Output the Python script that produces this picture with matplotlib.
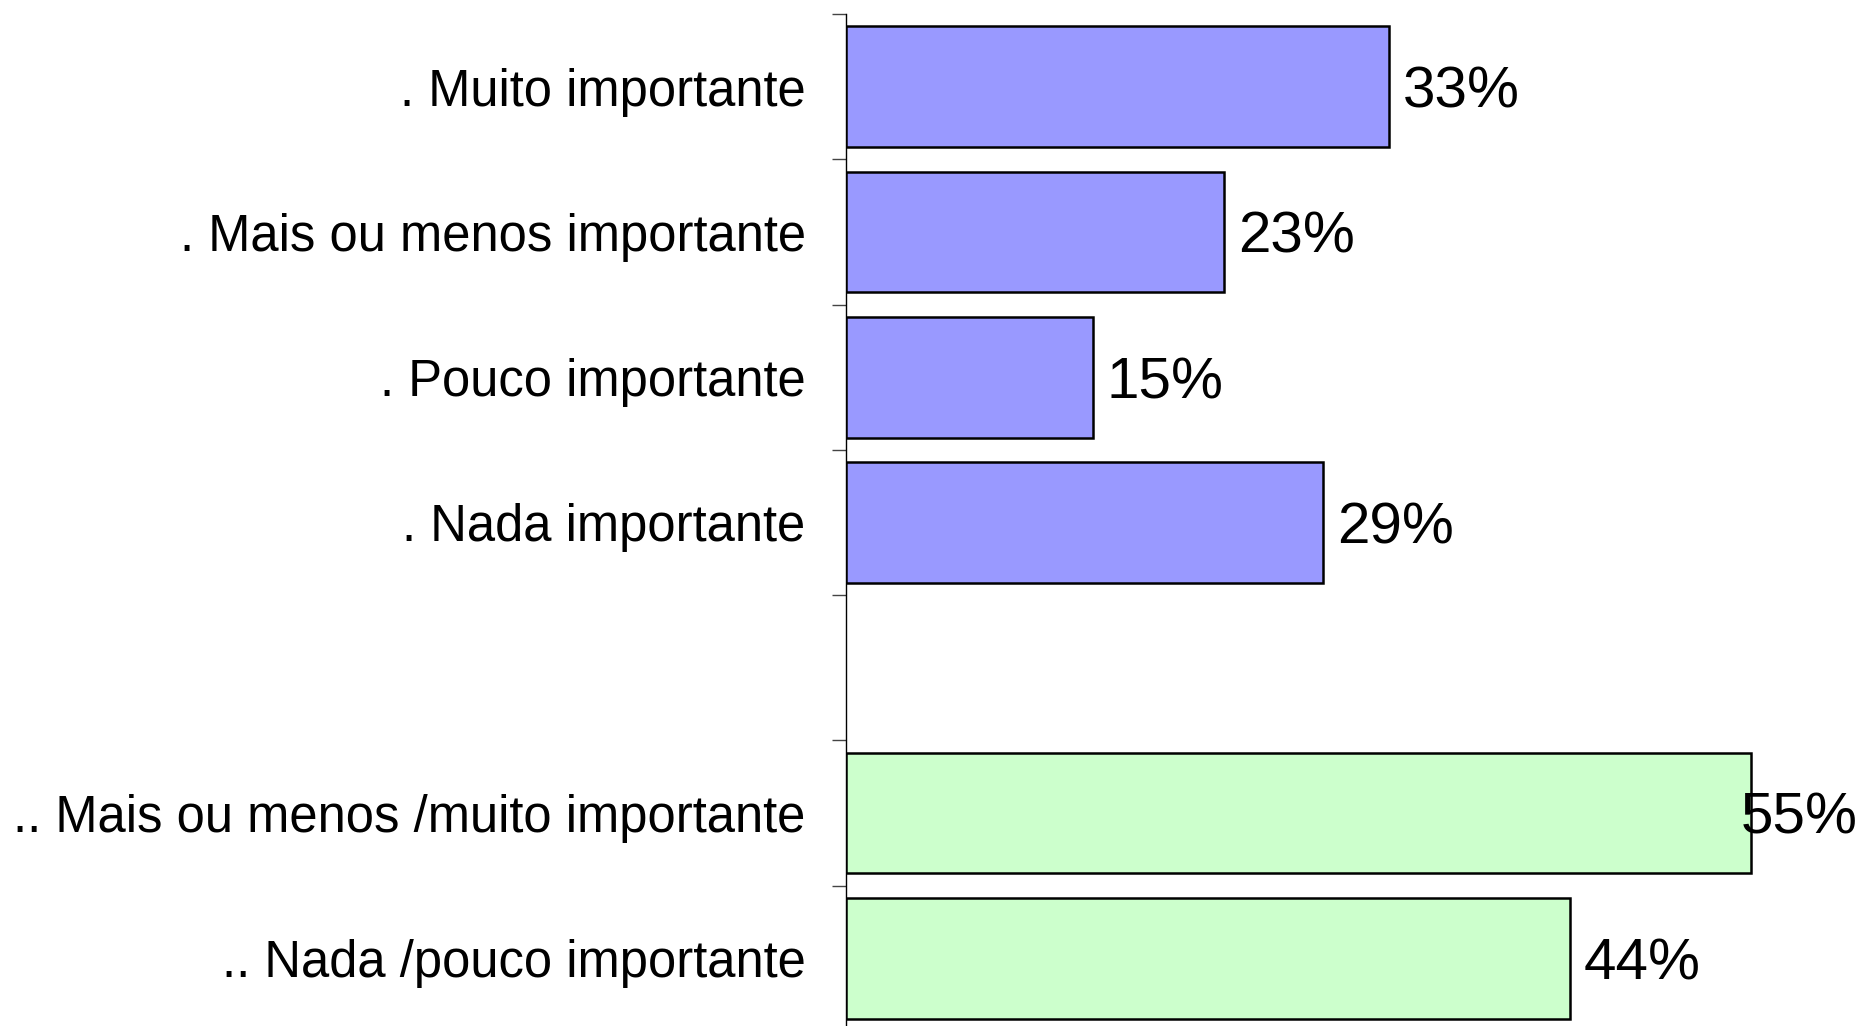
import numpy as np
import matplotlib
matplotlib.use('Agg')
import matplotlib.pyplot as plt
from matplotlib.ticker import FixedLocator


# DATA
# ================================================================================

categories = [
    '. Muito importante',
    '. Mais ou menos importante',
    '. Pouco importante',
    '. Nada importante',
    '',
    '.. Mais ou menos /muito importante',
    '.. Nada /pouco importante',
]
values = [33, 23, 15, 29, None, 55, 44]
groups = ['detail', 'detail', 'detail', 'detail', None, 'summary', 'summary']


class Colors:
    detail = '#9999ff'
    summary = '#ccffcc'
    edge = '#000000'


# FIGURE
# ================================================================================

plt.rcParams['font.family'] = ['Liberation Sans', 'DejaVu Sans']

fig = plt.figure(figsize=(18.58, 10.26), dpi=100)
ax = fig.add_axes([846 / 1858, -5 / 1026, 1 - 846 / 1858, 1 - 9 / 1026])

x_max = 61.5
positions = np.arange(len(categories))

ax.set_xlim(0, x_max)
ax.set_ylim(len(categories) - 0.5, -0.5)

for pos, val, grp in zip(positions, values, groups):
    if val is None:
        continue
    color = Colors.detail if grp == 'detail' else Colors.summary
    ax.barh(pos, val, height=0.83, color=color, edgecolor=Colors.edge, linewidth=1.8, zorder=3)

ax.set_xlim(0, x_max)
fig.canvas.draw()

for pos, val in zip(positions, values):
    if val is None:
        continue
    # value label: right of the bar, pulled back inside if it would leave the figure
    label = '{}%'.format(val)
    txt = ax.annotate(label, xy=(val, pos), xytext=(10, -15), textcoords='offset points',
                      ha='left', va='baseline', fontsize=42, color='black', zorder=4,
                      annotation_clip=False)
    bbox = txt.get_window_extent(renderer=fig.canvas.get_renderer())
    if bbox.x1 > fig.bbox.x1:
        txt.remove()
        ax.annotate(label, xy=(x_max, pos), xytext=(0, -15), textcoords='offset points',
                    ha='right', va='baseline', fontsize=42, color='black', zorder=4,
                    annotation_clip=False)

# category labels at the bars, tick marks at the slot boundaries
ax.yaxis.set_major_locator(FixedLocator(positions))
ax.set_yticklabels(categories, fontsize=36.5)
ax.yaxis.set_minor_locator(FixedLocator(np.arange(len(categories) + 1) - 0.5))
ax.tick_params(axis='y', which='major', length=0, pad=29)
ax.tick_params(axis='y', which='minor', length=10, width=1, color='#444444', direction='out')

ax.set_xticks([])
for side in ('top', 'right', 'bottom'):
    ax.spines[side].set_visible(False)
ax.spines['left'].set_linewidth(1.0)
ax.spines['left'].set_color('black')

fig.savefig('out.png', dpi=100)
